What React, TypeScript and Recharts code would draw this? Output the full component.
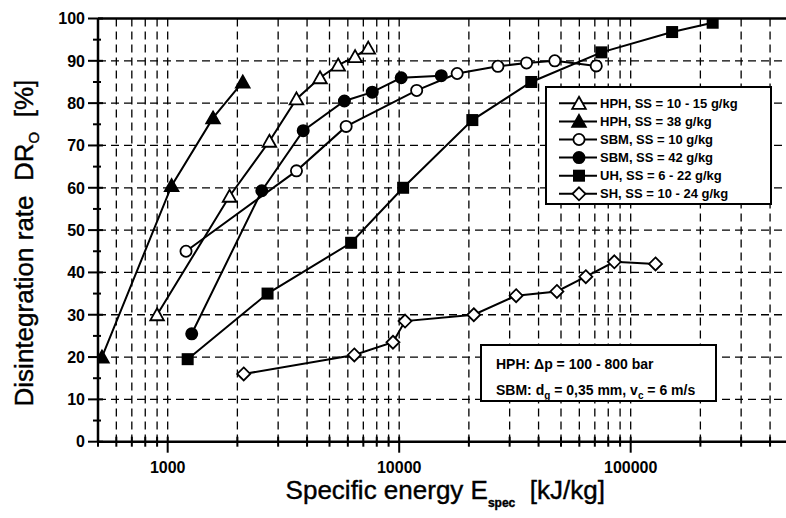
import React from "react";
import {
  LineChart,
  Line,
  XAxis,
  YAxis,
  CartesianGrid,
  ReferenceLine,
  Legend,
} from "recharts";

// values (x = kJ/kg, y = %)
const hphLowX = [900, 1850, 2750, 3600, 4550, 5450, 6450, 7350];
const hphLowY = [30, 58, 71, 81, 86, 89, 91, 93];

const hphHighX = [520, 1040, 1570, 2110];
const hphHighY = [20, 60.5, 76.5, 85];

const sbmLowX = [1200, 3600, 5900, 11900, 17800, 26700, 35500, 47000, 71000];
const sbmLowY = [45, 64, 74.5, 83, 87, 88.7, 89.5, 90, 88.8];

const sbmHighX = [1270, 2550, 3850, 5800, 7650, 10200, 15200];
const sbmHighY = [25.5, 59.3, 73.5, 80.5, 82.6, 86, 86.5];

const uhX = [1220, 2700, 6200, 10400, 20700, 37200, 74700, 151000, 226000];
const uhY = [19.5, 35, 47, 60, 76, 85, 92, 96.8, 99];

const shX = [2130, 6400, 9400, 10600, 21000, 32000, 48000, 64000, 85000, 128000];
const shY = [16, 20.5, 23.5, 28.5, 30, 34.5, 35.5, 39, 42.5, 42];

const xTicks = [
  500, 600, 700, 800, 900, 1000, 2000, 3000, 4000, 5000, 6000, 7000, 8000, 9000,
  10000, 20000, 30000, 40000, 50000, 60000, 70000, 80000, 90000, 100000, 200000,
  300000, 400000,
];
const xMajor = [1000, 10000, 100000];
const yTicks = [0, 5, 10, 15, 20, 25, 30, 35, 40, 45, 50, 55, 60, 65, 70, 75, 80, 85, 90, 95, 100];
const yGrid = [10, 20, 30, 40, 50, 60, 70, 80, 90];

const legendRows = [
  { label: "HPH, SS = 10 - 15 g/kg", kind: "triOpen" },
  { label: "HPH, SS = 38 g/kg", kind: "triFill" },
  { label: "SBM, SS = 10 g/kg", kind: "circOpen" },
  { label: "SBM, SS = 42 g/kg", kind: "circFill" },
  { label: "UH, SS = 6 - 22 g/kg", kind: "square" },
  { label: "SH, SS = 10 - 24 g/kg", kind: "diamond" },
];

const FONT = "'Liberation Sans', Arial, sans-serif";

const toPoints = (xs: number[], ys: number[]) => xs.map((x, i) => ({ x, y: ys[i] }));

function Marker({ kind, cx, cy }: { kind: string; cx: number; cy: number }) {
  if (cx == null || cy == null) return null;
  const sw = 1.8;
  if (kind === "triOpen" || kind === "triFill") {
    const pts = `${cx},${cy - 6.5} ${cx + 6.8},${cy + 5.5} ${cx - 6.8},${cy + 5.5}`;
    return (
      <polygon
        points={pts}
        fill={kind === "triFill" ? "#000" : "#fff"}
        stroke="#000"
        strokeWidth={sw}
      />
    );
  }
  if (kind === "circOpen" || kind === "circFill") {
    return (
      <circle
        cx={cx}
        cy={cy}
        r={5.6}
        fill={kind === "circFill" ? "#000" : "#fff"}
        stroke="#000"
        strokeWidth={sw}
      />
    );
  }
  if (kind === "square") {
    return <rect x={cx - 6} y={cy - 6} width={12} height={12} fill="#000" />;
  }
  const pts = `${cx},${cy - 6.5} ${cx + 6.5},${cy} ${cx},${cy + 6.5} ${cx - 6.5},${cy}`;
  return <polygon points={pts} fill="#fff" stroke="#000" strokeWidth={sw} />;
}

const renderDot = (kind: string) => (props: any) =>
  <Marker key={`${kind}-${props.index}`} kind={kind} cx={props.cx} cy={props.cy} />;

function XTick(props: any) {
  const { x, y, payload } = props;
  const major = xMajor.includes(payload.value);
  return (
    <g>
      <line x1={x} x2={x} y1={y - 5} y2={y + (major ? 11 : 5)} stroke="#000" strokeWidth={2} />
      {major && (
        <text
          x={x}
          y={y + 31.5}
          textAnchor="middle"
          fontFamily={FONT}
          fontWeight="bold"
          fontSize={16}
          fill="#000"
        >
          {payload.value}
        </text>
      )}
    </g>
  );
}

function YTick(props: any) {
  const { x, y, payload } = props;
  const major = payload.value % 10 === 0;
  return (
    <g>
      <line x1={x - (major ? 10 : 5)} x2={x + (major ? 5 : 3)} y1={y} y2={y} stroke="#000" strokeWidth={2} />
      {major && (
        <text
          x={x - 13}
          y={y}
          dy="0.36em"
          textAnchor="end"
          fontFamily={FONT}
          fontWeight="bold"
          fontSize={16}
          fill="#000"
        >
          {payload.value}
        </text>
      )}
    </g>
  );
}

function XTitle(props: any) {
  const vb = props.viewBox || { x: 98, y: 441.7, width: 694.5 };
  return (
    <text
      x={vb.x + vb.width / 2}
      y={vb.y + 57.5}
      textAnchor="middle"
      fontFamily={FONT}
      fontSize={26}
      fill="#000"
      stroke="#000"
      strokeWidth={0.4}
    >
      Specific energy E
      <tspan fontSize={12} fontWeight="bold" dy={8}>spec</tspan>
      <tspan dy={-8}>{"\u00A0\u00A0[kJ/kg]"}</tspan>
    </text>
  );
}

function YTitle(props: any) {
  const vb = props.viewBox || { x: 38, y: 18.5, height: 423.2 };
  const cy = vb.y + vb.height / 2 + 13;
  return (
    <text
      transform={`translate(33, ${cy}) rotate(-90)`}
      textAnchor="middle"
      fontFamily={FONT}
      fontSize={26}
      fill="#000"
      stroke="#000"
      strokeWidth={0.4}
    >
      {"Disintegration rate\u00A0\u00A0DR"}
      <tspan fontSize={15} dy={6}>O</tspan>
      <tspan dy={-6}>{"\u00A0\u00A0[%]"}</tspan>
    </text>
  );
}

function LegendBox() {
  return (
    <svg width={227} height={119} style={{ display: "block" }}>
      <rect x={1} y={1} width={225} height={117} fill="#fff" stroke="#000" strokeWidth={2} />
      {legendRows.map((r, i) => {
        const cy = 17.3 + i * 18.1;
        return (
          <g key={r.label}>
            <line x1={14} x2={52} y1={cy} y2={cy} stroke="#000" strokeWidth={2} />
            <Marker kind={r.kind} cx={34} cy={cy} />
            <text
              x={55}
              y={cy}
              dy="0.36em"
              fontFamily={FONT}
              fontWeight="bold"
              fontSize={13}
              fill="#000"
            >
              {r.label}
            </text>
          </g>
        );
      })}
    </svg>
  );
}

function NoteBox() {
  return (
    <div style={{ position: "absolute", left: 480, top: 344 }}>
      <svg width={237} height={58} style={{ display: "block" }}>
        <rect x={1} y={1} width={235} height={56} fill="#fff" stroke="#000" strokeWidth={2} />
        <text x={16} y={25} fontFamily={FONT} fontWeight="bold" fontSize={14} fill="#000">
          {"HPH: \u0394p = 100 - 800 bar"}
        </text>
        <text x={16} y={51} fontFamily={FONT} fontWeight="bold" fontSize={14} fill="#000">
          SBM: d
          <tspan fontSize={10} dy={4}>g</tspan>
          <tspan dy={-4}>{" = 0,35 mm, v"}</tspan>
          <tspan fontSize={10} dy={4}>c</tspan>
          <tspan dy={-4}>{" = 6 m/s"}</tspan>
        </text>
      </svg>
    </div>
  );
}

const series = [
  { name: "HPH, SS = 10 - 15 g/kg", kind: "triOpen", data: toPoints(hphLowX, hphLowY) },
  { name: "HPH, SS = 38 g/kg", kind: "triFill", data: toPoints(hphHighX, hphHighY) },
  { name: "SBM, SS = 10 g/kg", kind: "circOpen", data: toPoints(sbmLowX, sbmLowY) },
  { name: "SBM, SS = 42 g/kg", kind: "circFill", data: toPoints(sbmHighX, sbmHighY) },
  { name: "UH, SS = 6 - 22 g/kg", kind: "square", data: toPoints(uhX, uhY) },
  { name: "SH, SS = 10 - 24 g/kg", kind: "diamond", data: toPoints(shX, shY) },
];

export default function App() {
  return (
    <div
      style={{
        position: "fixed",
        left: 0,
        top: 0,
        width: 786,
        height: 518,
        overflow: "hidden",
        background: "#fff",
      }}
    >
      <LineChart
        width={800}
        height={518}
        margin={{ top: 18.5, right: 7.5, bottom: 46.3, left: 38 }}
      >
        <CartesianGrid
          stroke="#000"
          strokeWidth={1.3}
          strokeDasharray="8 5"
          horizontalValues={yGrid}
          verticalValues={xTicks.slice(1)}
        />
        <XAxis
          type="number"
          dataKey="x"
          scale="log"
          domain={[500, 500000]}
          allowDataOverflow
          ticks={xTicks}
          interval={0}
          tickSize={0}
          tickMargin={0}
          tick={<XTick />}
          axisLine={{ stroke: "#000", strokeWidth: 2.5 }}
          height={30}
          label={<XTitle />}
        />
        <YAxis
          type="number"
          dataKey="y"
          domain={[0, 100]}
          allowDataOverflow
          ticks={yTicks}
          interval={0}
          tickSize={0}
          tickMargin={0}
          tick={<YTick />}
          axisLine={{ stroke: "#000", strokeWidth: 2.5 }}
          width={60}
          label={<YTitle />}
        />
        <ReferenceLine y={100} stroke="#000" strokeWidth={2.5} />
        {series.map((s) => (
          <Line
            key={s.name}
            name={s.name}
            data={s.data}
            dataKey="y"
            type="linear"
            stroke="#000"
            strokeWidth={2}
            dot={renderDot(s.kind)}
            activeDot={false}
            isAnimationActive={false}
          />
        ))}
        <Legend
          layout="vertical"
          align="center"
          verticalAlign="middle"
          wrapperStyle={{ left: 545, top: 86, width: 227, height: 119 }}
          content={() => <LegendBox />}
        />
      </LineChart>
      <NoteBox />
    </div>
  );
}
